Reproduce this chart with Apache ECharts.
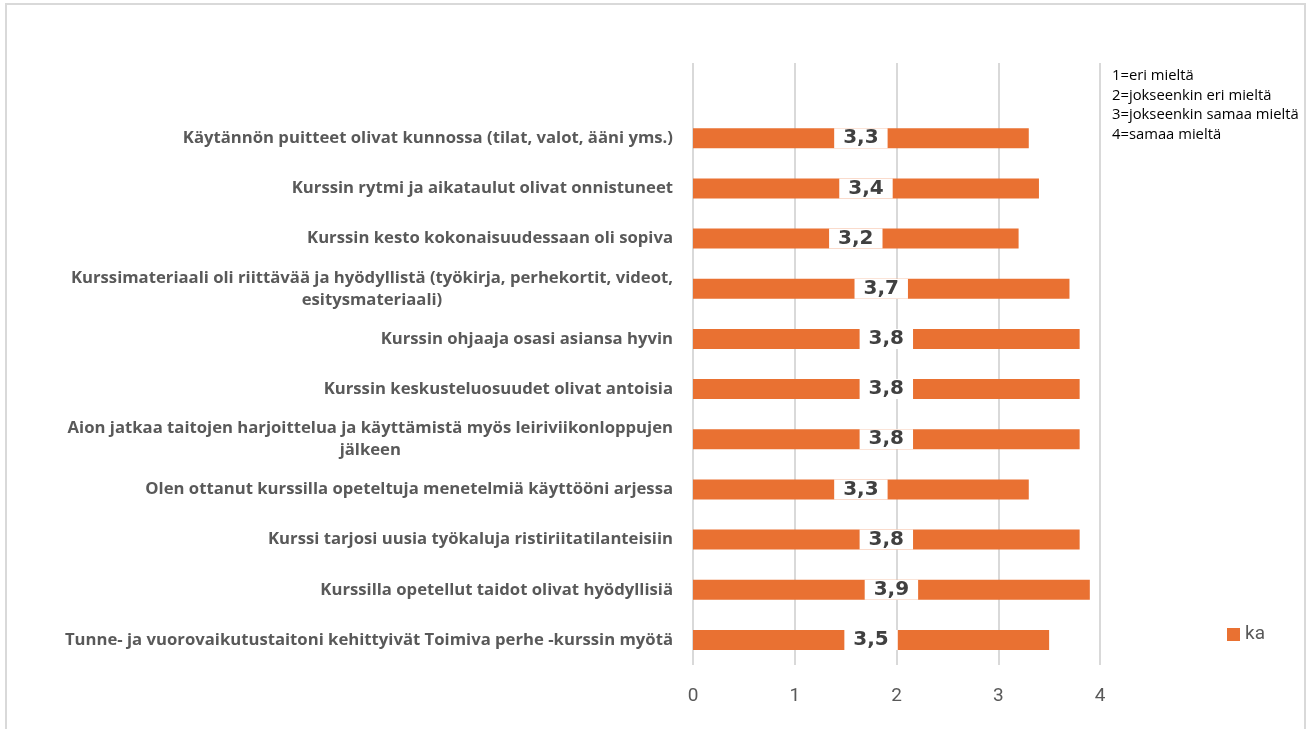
<!DOCTYPE html>
<html>
<head>
<meta charset="utf-8">
<script src="https://cdn.jsdelivr.net/npm/echarts@6/dist/echarts.min.js"></script>
<style>
html,body{margin:0;padding:0;background:#fff;}
#c{width:1307px;height:729px;}
</style>
</head>
<body>
<div id="c"></div>
<script>
// Top band is empty in the reference (plot area extends one row above the first item)
var categories = [
  "",
  "Käytännön puitteet olivat kunnossa (tilat, valot, ääni yms.)",
  "Kurssin rytmi ja aikataulut olivat onnistuneet",
  "Kurssin kesto kokonaisuudessaan oli sopiva",
  "Kurssimateriaali oli riittävää ja hyödyllistä (työkirja, perhekortit, videot,\nesitysmateriaali)",
  "Kurssin ohjaaja osasi asiansa hyvin",
  "Kurssin keskusteluosuudet olivat antoisia",
  "Aion jatkaa taitojen harjoittelua ja käyttämistä myös leiriviikonloppujen\njälkeen",
  "Olen ottanut kurssilla opeteltuja menetelmiä käyttööni arjessa",
  "Kurssi tarjosi uusia työkaluja ristiriitatilanteisiin",
  "Kurssilla opetellut taidot olivat hyödyllisiä",
  "Tunne- ja vuorovaikutustaitoni kehittyivät Toimiva perhe -kurssin myötä"
];
var kaValues = [null, 3.3, 3.4, 3.2, 3.7, 3.8, 3.8, 3.8, 3.3, 3.8, 3.9, 3.5];
var seriesName = "ka";
var xTicks = [0, 1, 2, 3, 4];
var noteLines = ["1=eri mieltä", "2=jokseenkin eri mieltä", "3=jokseenkin samaa mieltä", "4=samaa mieltä"];

var chart = echarts.init(document.getElementById('c'));
var option = {
  backgroundColor: '#fff',
  animation: false,
  textStyle: { fontFamily: 'Roboto' },
  grid: { left: 693, right: 207, top: 63, bottom: 64, containLabel: false },
  xAxis: {
    type: 'value',
    min: xTicks[0],
    max: xTicks[xTicks.length - 1],
    interval: 1,
    axisLine: { show: false },
    axisTick: { show: false },
    splitLine: { show: true, lineStyle: { color: '#d9d9d9', width: 2 } },
    axisLabel: { color: '#595959', fontSize: 19, margin: 22, fontFamily: 'Roboto' }
  },
  yAxis: {
    type: 'category',
    inverse: true,
    data: categories,
    axisLine: { show: false },
    axisTick: { show: false },
    axisLabel: {
      margin: 20,
      formatter: function (v) {
        return v.split('\n').map(function (l) { return '{c|' + l + '}'; }).join('\n');
      },
      rich: {
        c: { align: 'center', fontSize: 16.7, fontWeight: 'bold', color: '#595959', lineHeight: 22, fontFamily: 'Open Sans' }
      }
    }
  },
  legend: {
    data: [seriesName],
    left: 1227,
    top: 625,
    padding: 0,
    icon: 'rect',
    itemWidth: 13,
    itemHeight: 13,
    itemGap: 5,
    textStyle: { color: '#595959', fontSize: 19, fontFamily: 'Roboto' }
  },
  series: [{
    name: seriesName,
    type: 'bar',
    data: kaValues,
    barWidth: 20,
    itemStyle: { color: '#E97132' },
    label: {
      show: true,
      position: 'inside',
      formatter: function (p) { return String(p.value).replace('.', ','); },
      color: '#404040',
      fontSize: 20,
      fontWeight: 'bold',
      fontFamily: 'DejaVu Sans',
      backgroundColor: '#ffffff',
      padding: [0, 9],
      lineHeight: 20
    }
  }],
  graphic: [
    {
      type: 'rect',
      shape: { x: 6, y: 4, width: 1299, height: 760 },
      style: { fill: 'none', stroke: '#d9d9d9', lineWidth: 2 },
      silent: true
    },
    {
      type: 'text',
      left: 1112,
      top: 66,
      style: {
        text: noteLines.join('\n'),
        fontSize: 14.8,
        lineHeight: 19.7,
        fill: '#000000',
        fontFamily: 'Open Sans'
      }
    }
  ]
};
chart.setOption(option);
</script>
</body>
</html>
